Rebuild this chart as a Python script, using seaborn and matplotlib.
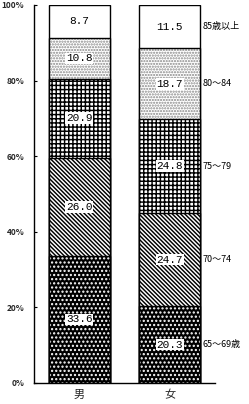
import matplotlib
matplotlib.use("Agg")
import matplotlib.pyplot as plt
import seaborn as sns
import numpy as np
import pandas as pd

categories = ["男", "女"]
age_groups = ["65～69歳", "70～74", "75～79", "80～84", "85歳以上"]
male = [33.6, 26.0, 20.9, 10.8, 8.7]
female = [20.3, 24.7, 24.8, 18.7, 11.5]
yticks = [0, 20, 40, 60, 80, 100]
ytick_labels = ["0%", "20%", "40%", "60%", "80%", "100%"]

sns.set_theme(style="white")
plt.rcParams['font.family'] = ['Noto Sans CJK JP', 'DejaVu Sans']
plt.rcParams['hatch.linewidth'] = 1.05

# styles per layer (bottom -> top)
faces = ["black", "white", "white", "white", "white"]
hatch_cols = ["white", "black", "black", "#888888", "black"]
hatches = ["....", "\\" * 8, "++++", "......", ""]

fig = plt.figure(figsize=(2.49, 4.04), dpi=100)
ax = fig.add_axes([34/249, 1-383/404, 181/249, 378/404])

vals = np.array([male, female])  # shape (2, 5)
cum = np.cumsum(vals, axis=1)
W = 0.674

# draw from top layer (largest cumulative) down
for i in range(len(age_groups) - 1, -1, -1):
    df = pd.DataFrame({"cat": categories, "v": cum[:, i]})
    n_before = len(ax.patches)
    sns.barplot(data=df, x="cat", y="v", ax=ax, color=faces[i], saturation=1,
                width=W, errorbar=None, edgecolor=hatch_cols[i], linewidth=0,
                hatch=hatches[i] if hatches[i] else None)
    for p in ax.patches[n_before:]:
        p.set_facecolor(faces[i])
    # outline
    sns.barplot(data=df, x="cat", y="v", ax=ax, color="black", saturation=1,
                width=W, errorbar=None, fill=False, linewidth=1.0)

# value labels
for j in range(2):
    for i in range(len(age_groups)):
        yc = cum[j, i] - vals[j, i] / 2
        ax.text(j, yc, f"{vals[j, i]:.1f}", ha="center", va="center",
                fontsize=8, family=["Liberation Mono"], color="black",
                bbox=dict(facecolor="white", edgecolor="none", pad=0.6))

# right side group labels
for i, g in enumerate(age_groups):
    yc = cum[1, i] - vals[1, i] / 2
    ax.text(1 + W/2 + 0.03, yc, g, ha="left", va="center", fontsize=6.5,
            color="black")

ax.set_ylim(0, 100)
ax.set_xlim(-0.5, 1.5)
ax.set_yticks(yticks)
ax.set_yticklabels(ytick_labels, fontsize=6, fontweight="bold")
ax.set_xticks([0, 1])
ax.set_xticklabels(categories, fontsize=8)
ax.set_xticks([-0.5, 0.5, 1.5], minor=True)
ax.tick_params(axis="x", which="major", length=0, pad=5)
ax.tick_params(axis="x", which="minor", direction="in", length=2.5, width=0.8, color="black")
ax.tick_params(axis="y", direction="in", length=2, width=0.8, color="black", pad=7, left=True)
ax.set_xlabel("")
ax.set_ylabel("")
for s in ["top", "right"]:
    ax.spines[s].set_visible(False)
for s in ["left", "bottom"]:
    ax.spines[s].set_color("black")
    ax.spines[s].set_linewidth(1.0)

fig.savefig("out.png", dpi=100)
